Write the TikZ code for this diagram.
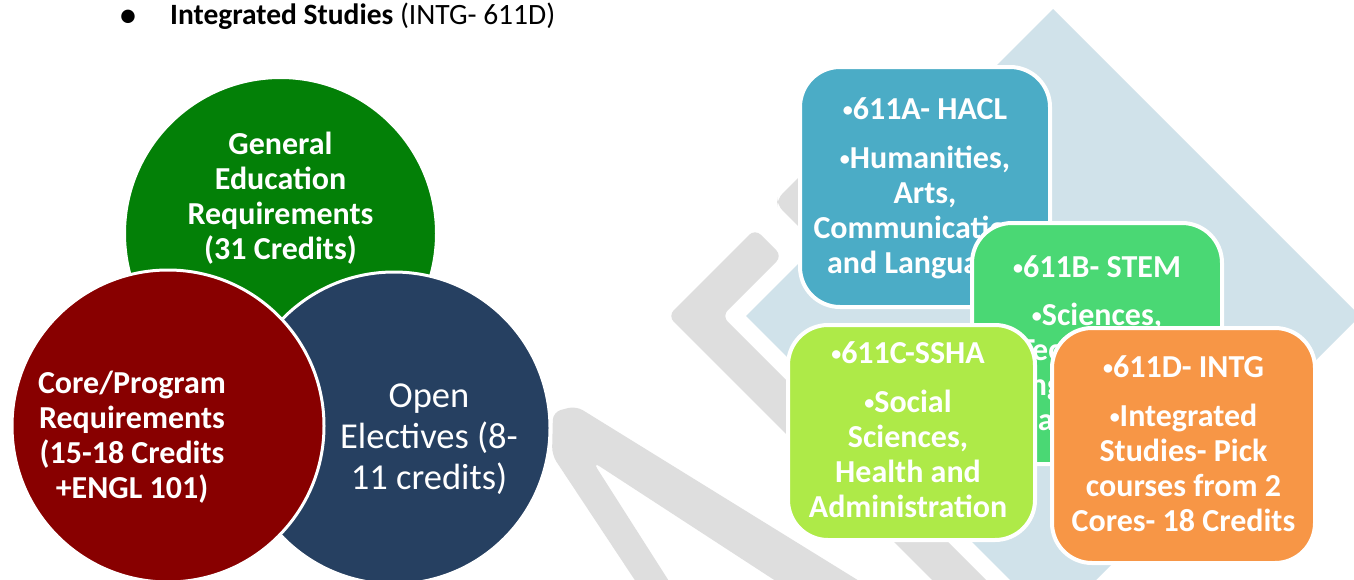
\documentclass[tikz,border=0pt]{standalone}
\usepackage{fontspec}
\setmainfont{Carlito}
\definecolor{gGreen}{RGB}{3,128,7}
\definecolor{gRed}{RGB}{136,0,0}
\definecolor{gNavy}{RGB}{38,64,97}
\definecolor{bTeal}{RGB}{75,172,198}
\definecolor{bGreen}{RGB}{74,216,116}
\definecolor{bLime}{RGB}{174,234,72}
\definecolor{bOrange}{RGB}{247,150,70}
\definecolor{bgBlue}{RGB}{208,226,234}
\definecolor{bgGray}{RGB}{222,222,222}
\newcommand\smbul{{\fontsize{20}{0}\selectfont\raisebox{3pt}{•}}}
\tikzset{
  circ/.style={circle, draw=white, line width=3pt, minimum size=312pt, inner sep=0pt},
  cardbox/.style={rectangle, rounded corners=40pt, draw=white, line width=4pt, inner sep=0pt},
  ctxt/.style={text=white, align=center, inner sep=0pt, anchor=base, font=\bfseries\fontsize{32}{35}\selectfont},
  otxt/.style={text=white, align=center, inner sep=0pt, anchor=base, font=\fontsize{36.5}{41}\selectfont},
  toptxt/.style={text=black, inner sep=0pt, font=\fontsize{29.5}{34}\selectfont},
  bgshape/.style={fill=bgGray, rounded corners=8pt},
}
\begin{document}
\begin{tikzpicture}[x=1pt,y=-1pt]
\fill[white] (0,0) rectangle (1354,579);
\useasboundingbox (0,0) rectangle (1354,579);
\clip (0,0) rectangle (1354,579);
% background decoration
\fill[bgBlue] (1053,9) -- (1360,316) -- (1053,623) -- (746,316) -- cycle;
\fill[bgshape] (755,229) -- (782,256) -- (722,316) -- (1026,620) -- (972,620) -- (668,316) -- cycle;
\fill[bgshape] (805,171) -- (777,199) -- (777,205) -- (805,233) -- cycle;
\fill[bgshape] (648,600) -- (552,455) -- (553,412) -- (576,406) -- (890,600) -- (805,600) -- (593,462) -- (681,600) -- cycle;
% title
\node[toptxt, anchor=base, font=\fontsize{38}{38}\selectfont] (bul) at (128,27) {•};
\node[toptxt, anchor=base west] (title) at (170,24) {\textbf{Integrated Studies} (INTG- 611D)};
% venn circles
\node[circ, fill=gGreen] (gen) at (280.5,233.5) {};
\node[circ, fill=gNavy] (open) at (394,428) {};
\node[circ, fill=gRed] (core) at (168,426) {};
\node[ctxt] (gent) at (280.5,259) {General\\Education\\Requirements\\(31 Credits)};
\node[ctxt] (coret) at (132,498) {Core/Program\\Requirements\\(15-18 Credits\\+ENGL 101)};
\node[otxt] (opent) at (429,489) {Open\\Electives (8-\\11 credits)};
% cards
\node[cardbox, fill=bTeal, minimum width=250pt, minimum height=240pt] (hacl) at (925,187) {};
\node[ctxt] (haclt) at (925,273) {\smbul611A- HACL\\[14pt]\smbul Humanities,\\Arts,\\Communications\\and Languages};
\node[cardbox, fill=bGreen, minimum width=250pt, minimum height=241pt] (stem) at (1097,343.5) {};
\node[ctxt] (stemt) at (1097,430) {\smbul611B- STEM\\[13pt]\smbul Sciences,\\Technology,\\Engineering,\\Mathematics};
\node[cardbox, fill=bLime, minimum width=247pt, minimum height=215pt] (ssha) at (911.5,432.5) {};
\node[ctxt] (sshat) at (908,517) {\smbul611C-SSHA\\[14pt]\smbul Social\\Sciences,\\Health and\\Administration};
\node[cardbox, fill=bOrange, minimum width=263pt, minimum height=235pt] (intg) at (1183.5,445.5) {};
\node[ctxt] (intgt) at (1183.5,531) {\smbul611D- INTG\\[14pt]\smbul Integrated\\Studies- Pick\\courses from 2\\Cores- 18 Credits};
\end{tikzpicture}
\end{document}
